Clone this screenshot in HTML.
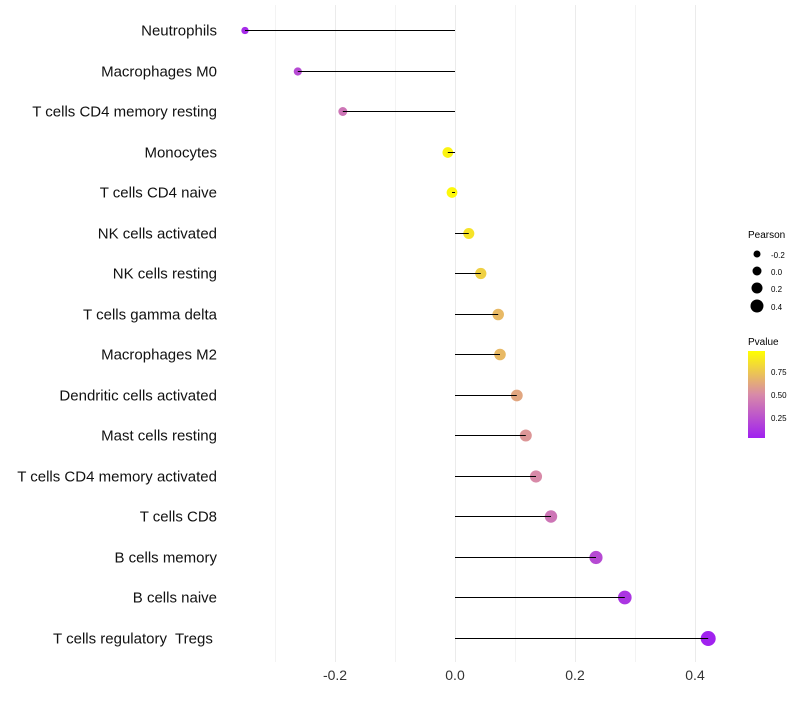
<!DOCTYPE html>
<html><head><meta charset="utf-8"><style>
body{margin:0;background:#fff;font-family:"Liberation Sans",sans-serif;}
</style></head><body>
<svg id="chart" width="800" height="700" xmlns="http://www.w3.org/2000/svg">
<defs><linearGradient id="pg" x1="0" y1="1" x2="0" y2="0">
<stop offset="0" stop-color="#a020f0"/><stop offset="0.5" stop-color="#d88aa8"/><stop offset="1" stop-color="#ffff00"/></linearGradient></defs>
<g id="grid"></g><g id="dots"></g><g id="marks"></g><g id="labels"></g>
<g font-size="10">
<text x="748" y="238" fill="#000">Pearson</text>
<circle cx="757" cy="254" r="3.5"/><text x="771" y="258" font-size="8">-0.2</text>
<circle cx="757" cy="271" r="4.5"/><text x="771" y="275" font-size="8">0.0</text>
<circle cx="757" cy="288" r="5.5"/><text x="771" y="292" font-size="8">0.2</text>
<circle cx="757" cy="306" r="6.5"/><text x="771" y="310" font-size="8">0.4</text>
</g>
<g font-size="10">
<text x="748" y="345">Pvalue</text>
<rect x="748" y="351" width="17" height="87" fill="url(#pg)"/>
<text x="771" y="375" font-size="8">0.75</text>
<text x="771" y="398" font-size="8">0.50</text>
<text x="771" y="421" font-size="8">0.25</text>
</g>
</svg>
<script>
const categories=["Neutrophils","Macrophages M0","T cells CD4 memory resting","Monocytes","T cells CD4 naive","NK cells activated","NK cells resting","T cells gamma delta","Macrophages M2","Dendritic cells activated","Mast cells resting","T cells CD4 memory activated","T cells CD8","B cells memory","B cells naive","T cells regulatory  Tregs "];
const pearson=[-0.35,-0.262,-0.187,-0.012,-0.005,0.023,0.043,0.072,0.075,0.103,0.118,0.135,0.16,0.235,0.283,0.422];
const pvalues=[0.05,0.2,0.4,0.95,0.97,0.88,0.8,0.7,0.7,0.62,0.55,0.5,0.4,0.2,0.1,0.01];
const xTicks=[-0.2,0,0.2,0.4];
const ns="http://www.w3.org/2000/svg";
const x=v=>455+v*600, y=i=>Math.round(30+i*40.5)+0.5;
function col(p){const a=[160,32,240],m=[216,138,168],b=[255,255,0];let c0,c1,t;if(p<0.5){c0=a;c1=m;t=p/0.5}else{c0=m;c1=b;t=(p-0.5)/0.5}return "rgb("+c0.map((c,k)=>Math.round(c+(c1[k]-c)*t)).join(",")+")";}
function mk(t,at,parent){const e=document.createElementNS(ns,t);for(const k in at)e.setAttribute(k,at[k]);document.getElementById(parent).appendChild(e);return e;}
for(let k=-3;k<=4;k++){const v=k/10;const g=mk("line",{x1:x(v)+0.5,x2:x(v)+0.5,y1:5,y2:662,stroke:k%2==0?"#ebebeb":"#f3f3f3","stroke-width":1},"grid");

}
xTicks.forEach(v=>{const t=mk("text",{x:x(v),y:680,"text-anchor":"middle","font-size":"14",fill:"#333"},"labels");t.textContent=v.toFixed(1);

});
categories.forEach((c,i)=>{const t=mk("text",{x:217,y:y(i)+5,"text-anchor":"end","font-size":"15",fill:"#111"},"labels");t.textContent=c;t.style.whiteSpace="pre";


const d=mk("circle",{cx:x(pearson[i]),cy:y(i),r:Math.max(2.2,5.4+5*pearson[i]),fill:col(pvalues[i])},"dots");


const l=mk("line",{x1:x(0),x2:x(pearson[i]),y1:y(i),y2:y(i),stroke:"#000","stroke-width":1},"marks");

});
</script>
</body></html>
